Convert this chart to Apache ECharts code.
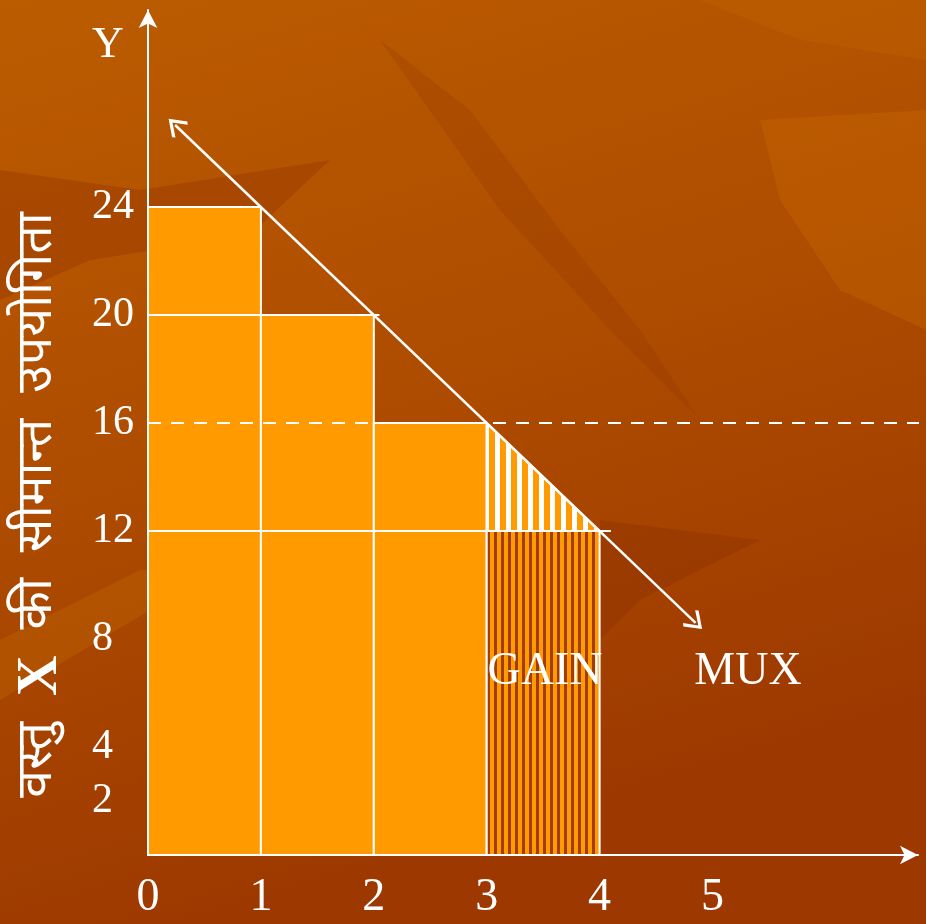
<!DOCTYPE html>
<html>
<head>
<meta charset="utf-8">
<script src="https://cdn.jsdelivr.net/npm/echarts@6/dist/echarts.min.js"></script>
<style>
  html, body { margin: 0; padding: 0; }
  #chart { width: 926px; height: 924px; }
</style>
</head>
<body>
<div id="chart"></div>
<script>
// units of X consumed and the marginal utility of each unit
const xTicks = [0, 1, 2, 3, 4, 5];
const yTicks = [2, 4, 8, 12, 16, 20, 24];
const unitStart = [0, 1, 2, 3];
const unitEnd = [1, 2, 3, 4];
const marginalUtility = [24, 20, 16, 12];

// gain triangle on top of the 4th unit, and the MUX line through the bar corners
const gainTriangle = [[3, 16], [3, 12], [4, 12]];
const muxLine = [[0.24, 27.04], [4.85, 8.6]];
const guide20 = [[0, 20], [2.05, 20]];
const guide12 = [[0, 12], [4.1, 12]];
const guide16 = [[0, 16], [6.9, 16]];

const serif = '"Liberation Serif", "Times New Roman", serif';
const hindi = '"Noto Sans Devanagari", "Noto Serif Devanagari", "Lohit Devanagari", "Noto Sans", sans-serif';

function stripes(w1, c1, w2, c2) {
  let cv = document.createElement('canvas');
  cv.width = w1 + w2;
  cv.height = 4;
  let ctx = cv.getContext('2d');
  ctx.fillStyle = c1;
  ctx.fillRect(0, 0, w1, 4);
  ctx.fillStyle = c2;
  ctx.fillRect(w1, 0, w2, 4);
  return cv;
}
const barStripe = { image: stripes(4, '#FF9A00', 3, '#A33C00'), repeat: 'repeat' };
const triStripe = { image: stripes(5, '#FFFFFF', 6, '#FF9A00'), repeat: 'repeat' };

// a few soft leaf shapes for the slide background
function leaf(points, color, opacity) {
  return { type: 'polygon', z: -10, silent: true, shape: { points: points }, style: { fill: color, opacity: opacity } };
}

let chart = echarts.init(document.getElementById('chart'));

let barData = unitStart.map((s, i) => [s, unitEnd[i], marginalUtility[i]]);

let chevron = 'path://M5,0 L10,7 L9,8.2 L5,2.4 L1,8.2 L0,7 Z';

let option = {
  backgroundColor: {
    type: 'linear', x: 0, y: 0, x2: 0.3, y2: 1,
    colorStops: [
      { offset: 0, color: '#BC5C00' },
      { offset: 0.5, color: '#AE4C00' },
      { offset: 1, color: '#9C3800' }
    ]
  },
  animation: false,
  grid: { left: 148, right: 8, top: 10, bottom: 69 },
  xAxis: {
    type: 'value',
    min: 0,
    max: 6.82,
    splitLine: { show: false },
    axisTick: { show: false },
    axisLine: {
      onZero: false,
      lineStyle: { color: '#fff', width: 2 },
      symbol: ['none', 'arrow'],
      symbolSize: [14, 18]
    },
    axisLabel: {
      customValues: xTicks,
      color: '#fff',
      fontFamily: serif,
      fontSize: 46,
      margin: 20
    }
  },
  yAxis: {
    type: 'value',
    min: 0,
    max: 31.3,
    splitLine: { show: false },
    axisTick: { show: false },
    axisLine: {
      show: true,
      lineStyle: { color: '#fff', width: 2 },
      symbol: ['none', 'arrow'],
      symbolSize: [14, 18]
    },
    axisLabel: {
      customValues: yTicks,
      color: '#fff',
      fontFamily: serif,
      fontSize: 42,
      align: 'left',
      margin: 56
    }
  },
  series: [
    {
      type: 'custom',
      z: 2,
      data: barData,
      renderItem: function (params, api) {
        let p0 = api.coord([api.value(0), api.value(2)]);
        let p1 = api.coord([api.value(1), 0]);
        return {
          type: 'rect',
          shape: { x: p0[0], y: p0[1], width: p1[0] - p0[0], height: p1[1] - p0[1] },
          style: {
            fill: params.dataIndex === 3 ? barStripe : '#FF9A00',
            stroke: '#fff',
            lineWidth: 2
          }
        };
      }
    },
    {
      type: 'custom',
      z: 3,
      data: [[0]],
      renderItem: function (params, api) {
        return {
          type: 'polygon',
          shape: { points: gainTriangle.map(p => api.coord(p)) },
          style: { fill: triStripe, stroke: '#fff', lineWidth: 2 }
        };
      }
    },
    {
      type: 'line',
      z: 4,
      data: guide12,
      symbol: 'none',
      lineStyle: { color: '#fff', width: 2 }
    },
    {
      type: 'line',
      z: 4,
      data: guide20,
      symbol: 'none',
      lineStyle: { color: '#fff', width: 2 }
    },
    {
      type: 'line',
      z: 4,
      data: guide16,
      symbol: 'none',
      lineStyle: { color: '#fff', width: 2, type: [13, 10] },
      markLine: {
        silent: true,
        symbol: [chevron, chevron],
        symbolSize: [22, 18],
        label: { show: false },
        lineStyle: { color: '#fff', width: 2.5, type: 'solid' },
        data: [[{ coord: muxLine[0] }, { coord: muxLine[1] }]]
      }
    }
  ],
  graphic: [
    leaf([[0, 170], [140, 190], [330, 160], [250, 235], [90, 260], [0, 300]], '#8E3200', 0.35),
    leaf([[380, 40], [470, 110], [560, 230], [640, 330], [700, 420], [610, 330], [500, 210]], '#8E3200', 0.25),
    leaf([[760, 120], [926, 110], [926, 330], [840, 290], [780, 200]], '#C86A00', 0.35),
    leaf([[0, 640], [140, 570], [300, 560], [150, 610], [0, 700]], '#C06A00', 0.35),
    leaf([[600, 520], [760, 540], [640, 600], [600, 640]], '#8A2E00', 0.35),
    leaf([[700, 0], [926, 0], [926, 60], [800, 40]], '#C46600', 0.3),
    {
      type: 'text', x: 108, y: 45,
      style: { text: 'Y', fill: '#fff', font: '44px ' + serif, align: 'center', verticalAlign: 'middle' }
    },
    {
      type: 'text', x: 42, y: 505, rotation: Math.PI / 2,
      style: {
        text: 'वस्तु  {x|X}  की  सीमान्त  उपयोगिता',
        fill: '#fff',
        font: '50px ' + hindi,
        align: 'center',
        verticalAlign: 'middle',
        rich: { x: { fontFamily: serif, fontSize: 56, fontWeight: 'bold', fill: '#fff' } }
      }
    },
    {
      type: 'text', x: 545, y: 672, z: 10,
      style: { text: 'GAIN', fill: '#fff', font: '46px ' + serif, align: 'center', verticalAlign: 'middle' }
    },
    {
      type: 'text', x: 748, y: 672,
      style: { text: 'MUX', fill: '#fff', font: '46px ' + serif, align: 'center', verticalAlign: 'middle' }
    }
  ]
};

chart.setOption(option);
</script>
</body>
</html>
